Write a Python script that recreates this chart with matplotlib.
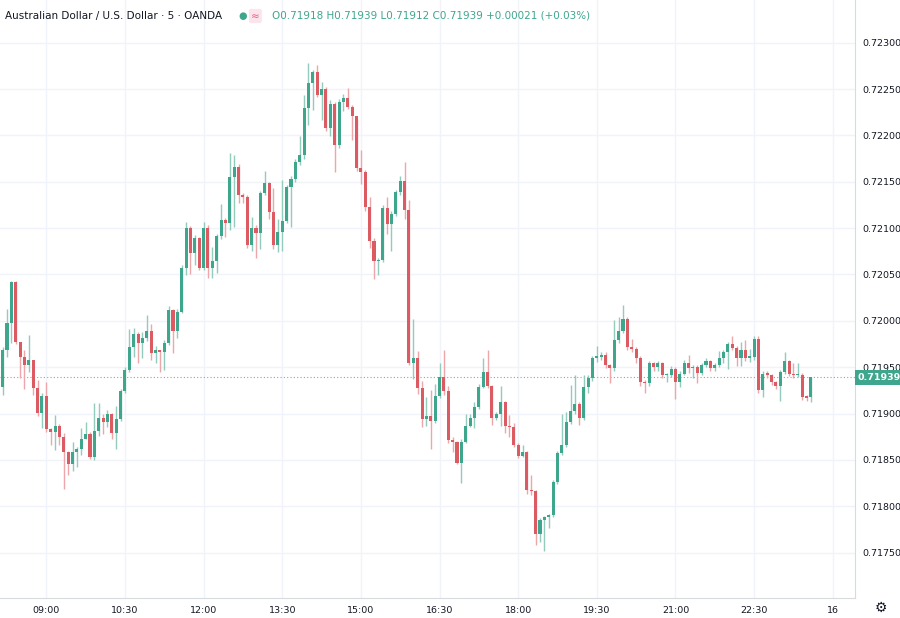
import matplotlib
matplotlib.use("Agg")
import matplotlib.pyplot as plt
from matplotlib.patches import Rectangle

# 5-minute bars, first bar 08:10, last bar 23:35
closes = [
    0.71969, 0.71998, 0.72042, 0.71977, 0.71961, 0.71952, 0.71958, 0.71928, 0.71901, 0.71919,
    0.71883, 0.71880, 0.71886, 0.71875, 0.71858, 0.71846, 0.71858, 0.71862, 0.71873, 0.71878,
    0.71853, 0.71881, 0.71895, 0.71891, 0.71899, 0.71879, 0.71894, 0.71924, 0.71947, 0.71972,
    0.71986, 0.71976, 0.71981, 0.71989, 0.71965, 0.71968, 0.71966, 0.71976, 0.72012, 0.71989,
    0.72010, 0.72057, 0.72100, 0.72073, 0.72089, 0.72057, 0.72100, 0.72057, 0.72064, 0.72091,
    0.72109, 0.72106, 0.72155, 0.72166, 0.72136, 0.72134, 0.72082, 0.72100, 0.72095, 0.72138,
    0.72149, 0.72117, 0.72082, 0.72096, 0.72108, 0.72144, 0.72153, 0.72171, 0.72179, 0.72230,
    0.72256, 0.72268, 0.72244, 0.72250, 0.72208, 0.72234, 0.72190, 0.72236, 0.72240, 0.72231,
    0.72221, 0.72165, 0.72161, 0.72123, 0.72086, 0.72064, 0.72066, 0.72122, 0.72104, 0.72115,
    0.72139, 0.72151, 0.72119, 0.71955, 0.71960, 0.71928, 0.71894, 0.71897, 0.71892, 0.71919,
    0.71939, 0.71924, 0.71871, 0.71869, 0.71847, 0.71869, 0.71887, 0.71895, 0.71907, 0.71929,
    0.71945, 0.71930, 0.71895, 0.71899, 0.71912, 0.71886, 0.71885, 0.71866, 0.71854, 0.71858,
    0.71818, 0.71816, 0.71770, 0.71785, 0.71788, 0.71790, 0.71826, 0.71857, 0.71866, 0.71891,
    0.71903, 0.71910, 0.71895, 0.71929, 0.71938, 0.71960, 0.71961, 0.71963, 0.71952, 0.71949,
    0.71979, 0.71989, 0.72002, 0.71972, 0.71970, 0.71960, 0.71934, 0.71933, 0.71954, 0.71950,
    0.71954, 0.71941, 0.71941, 0.71948, 0.71934, 0.71943, 0.71955, 0.71949, 0.71950, 0.71944,
    0.71952, 0.71957, 0.71949, 0.71952, 0.71960, 0.71966, 0.71975, 0.71971, 0.71960, 0.71968,
    0.71960, 0.71961, 0.71980, 0.71925, 0.71943, 0.71942, 0.71934, 0.71930, 0.71945, 0.71957,
    0.71943, 0.71941, 0.71942, 0.71918, 0.71917, 0.71939,
]
highs = [
    0.71972, 0.72013, 0.72043, 0.72043, 0.71977, 0.71969, 0.71985, 0.71958, 0.71936, 0.71922,
    0.71934, 0.71884, 0.71898, 0.71889, 0.71879, 0.71860, 0.71869, 0.71864, 0.71884, 0.71891,
    0.71880, 0.71911, 0.71911, 0.71899, 0.71904, 0.71901, 0.71908, 0.71926, 0.71950, 0.71991,
    0.71992, 0.71988, 0.71988, 0.72006, 0.71996, 0.71973, 0.71969, 0.71979, 0.72016, 0.72013,
    0.72013, 0.72060, 0.72107, 0.72102, 0.72092, 0.72090, 0.72107, 0.72103, 0.72080, 0.72094,
    0.72126, 0.72111, 0.72181, 0.72179, 0.72169, 0.72138, 0.72136, 0.72112, 0.72103, 0.72140,
    0.72162, 0.72150, 0.72143, 0.72110, 0.72152, 0.72146, 0.72156, 0.72174, 0.72199, 0.72244,
    0.72278, 0.72271, 0.72276, 0.72258, 0.72252, 0.72238, 0.72236, 0.72239, 0.72245, 0.72251,
    0.72233, 0.72218, 0.72184, 0.72163, 0.72133, 0.72089, 0.72068, 0.72125, 0.72133, 0.72118,
    0.72141, 0.72156, 0.72171, 0.72130, 0.72002, 0.71967, 0.71935, 0.71918, 0.71925, 0.71932,
    0.71954, 0.71969, 0.71930, 0.71875, 0.71870, 0.71872, 0.71900, 0.71900, 0.71912, 0.71932,
    0.71960, 0.71968, 0.71931, 0.71902, 0.71930, 0.71914, 0.71898, 0.71890, 0.71868, 0.71866,
    0.71860, 0.71834, 0.71818, 0.71787, 0.71789, 0.71792, 0.71828, 0.71860, 0.71900, 0.71902,
    0.71931, 0.71941, 0.71912, 0.71941, 0.71941, 0.71962, 0.71973, 0.71966, 0.71966, 0.71953,
    0.72001, 0.72004, 0.72017, 0.72004, 0.71980, 0.71972, 0.71962, 0.71936, 0.71957, 0.71956,
    0.71957, 0.71956, 0.71944, 0.71951, 0.71950, 0.71946, 0.71958, 0.71963, 0.71952, 0.71952,
    0.71954, 0.71960, 0.71958, 0.71954, 0.71967, 0.71969, 0.71977, 0.71984, 0.71973, 0.71977,
    0.71979, 0.71970, 0.71984, 0.71984, 0.71946, 0.71946, 0.71943, 0.71935, 0.71947, 0.71966,
    0.71958, 0.71954, 0.71955, 0.71944, 0.71920, 0.71939,
]
lows = [
    0.71920, 0.71961, 0.71976, 0.71975, 0.71938, 0.71926, 0.71945, 0.71920, 0.71897, 0.71884,
    0.71880, 0.71866, 0.71861, 0.71866, 0.71819, 0.71834, 0.71838, 0.71842, 0.71855, 0.71872,
    0.71851, 0.71850, 0.71876, 0.71878, 0.71885, 0.71873, 0.71862, 0.71892, 0.71922, 0.71945,
    0.71961, 0.71955, 0.71960, 0.71978, 0.71958, 0.71955, 0.71945, 0.71947, 0.71974, 0.71965,
    0.71981, 0.72008, 0.72049, 0.72051, 0.72060, 0.72055, 0.72055, 0.72046, 0.72046, 0.72052,
    0.72088, 0.72090, 0.72098, 0.72101, 0.72127, 0.72127, 0.72079, 0.72075, 0.72068, 0.72077,
    0.72136, 0.72110, 0.72077, 0.72074, 0.72075, 0.72105, 0.72101, 0.72150, 0.72168, 0.72175,
    0.72211, 0.72227, 0.72241, 0.72217, 0.72205, 0.72199, 0.72160, 0.72186, 0.72226, 0.72228,
    0.72195, 0.72162, 0.72147, 0.72118, 0.72078, 0.72045, 0.72049, 0.72063, 0.72094, 0.72075,
    0.72113, 0.72136, 0.72110, 0.71952, 0.71937, 0.71921, 0.71885, 0.71886, 0.71862, 0.71890,
    0.71917, 0.71920, 0.71868, 0.71858, 0.71845, 0.71825, 0.71868, 0.71885, 0.71884, 0.71905,
    0.71928, 0.71928, 0.71888, 0.71893, 0.71886, 0.71879, 0.71875, 0.71864, 0.71852, 0.71853,
    0.71813, 0.71812, 0.71758, 0.71761, 0.71752, 0.71777, 0.71788, 0.71824, 0.71855, 0.71864,
    0.71889, 0.71900, 0.71888, 0.71893, 0.71922, 0.71935, 0.71956, 0.71958, 0.71949, 0.71933,
    0.71946, 0.71976, 0.71987, 0.71968, 0.71966, 0.71955, 0.71930, 0.71922, 0.71930, 0.71946,
    0.71946, 0.71938, 0.71934, 0.71939, 0.71916, 0.71929, 0.71942, 0.71944, 0.71938, 0.71933,
    0.71942, 0.71950, 0.71946, 0.71946, 0.71950, 0.71955, 0.71948, 0.71968, 0.71951, 0.71951,
    0.71957, 0.71956, 0.71958, 0.71922, 0.71918, 0.71938, 0.71931, 0.71926, 0.71914, 0.71943,
    0.71940, 0.71938, 0.71939, 0.71915, 0.71914, 0.71912,
]
first_open = 0.71929
opens = [first_open] + closes[:-1]
opens[-1] = 0.71918

price_ticks = [0.71750, 0.71800, 0.71850, 0.71900, 0.71950, 0.72000,
               0.72050, 0.72100, 0.72150, 0.72200, 0.72250, 0.72300]
time_tick_bars = [10, 28, 46, 64, 82, 100, 118, 136, 154, 172, 190]
time_tick_labels = ["09:00", "10:30", "12:00", "13:30", "15:00", "16:30",
                    "18:00", "19:30", "21:00", "22:30", "16"]
last_price = 0.71939

UP = "#3fa68e"
DOWN = "#dc5b63"
UP_WICK = "#93cbbd"
DOWN_WICK = "#eda6aa"

fig = plt.figure(figsize=(9, 6.18), dpi=100)
ax = fig.add_axes([0, 20 / 618, 855 / 900, 598 / 618])

for i, (o, h, l, c) in enumerate(zip(opens, highs, lows, closes)):
    up = c >= o
    ax.vlines(i, l, h, color=UP_WICK if up else DOWN_WICK, linewidth=1, zorder=2)
    bottom = min(o, c)
    height = max(abs(c - o), 0.000015)
    ax.add_patch(Rectangle((i - 0.35, bottom), 0.7, height,
                           facecolor=UP if up else DOWN, edgecolor="none", zorder=3))

ax.set_xlim(-0.6, 195.1)
ax.set_ylim(0.71701, 0.72346)

for p in price_ticks:
    ax.axhline(p, color="#f0f3fa", linewidth=1, zorder=0)
for b in time_tick_bars:
    ax.axvline(b, color="#f0f3fa", linewidth=1, zorder=0)

ax.axhline(last_price, color="#9aa0a6", linewidth=0.8, linestyle=(0, (1, 2)), zorder=1)

ax.yaxis.tick_right()
ax.set_yticks(price_ticks)
ax.set_yticklabels([f"{p:.5f}" for p in price_ticks])
ax.set_xticks(time_tick_bars)
ax.set_xticklabels(time_tick_labels)
ax.tick_params(axis="both", length=0, labelsize=6.8, labelcolor="#131722")
ax.tick_params(axis="x", pad=6)
ax.tick_params(axis="y", pad=5)
for side in ["top", "left"]:
    ax.spines[side].set_visible(False)
ax.spines["right"].set_color("#d6dcde")
ax.spines["bottom"].set_color("#d6dcde")

# last price label on the price scale
ax.text(1.003, last_price, f"{last_price:.5f}", transform=ax.get_yaxis_transform(),
        ha="left", va="center", fontsize=6.8, color="white", fontweight="bold",
        bbox=dict(boxstyle="square,pad=0.3", facecolor=UP, edgecolor="none"),
        clip_on=False, zorder=5)

# header
fig.text(5 / 900, 1 - 16 / 618, "Australian Dollar / U.S. Dollar · 5 · OANDA",
         fontsize=7.5, color="#131722", va="center")
fig.text(238 / 900, 1 - 16 / 618, "●", fontsize=7, color=UP, va="center")
fig.text(251 / 900, 1 - 16 / 618, "≈", fontsize=7.5, color="#e05a8c", va="center",
         bbox=dict(boxstyle="round,pad=0.2", facecolor="#fce4ec", edgecolor="none"))
fig.text(272 / 900, 1 - 16 / 618,
         "O0.71918 H0.71939 L0.71912 C0.71939 +0.00021 (+0.03%)",
         fontsize=7.5, color=UP, va="center")
fig.text(881 / 900, 10 / 618, "⚙", fontsize=10, color="#131722", ha="center", va="center")

fig.savefig("out.png", dpi=100, facecolor="white")
